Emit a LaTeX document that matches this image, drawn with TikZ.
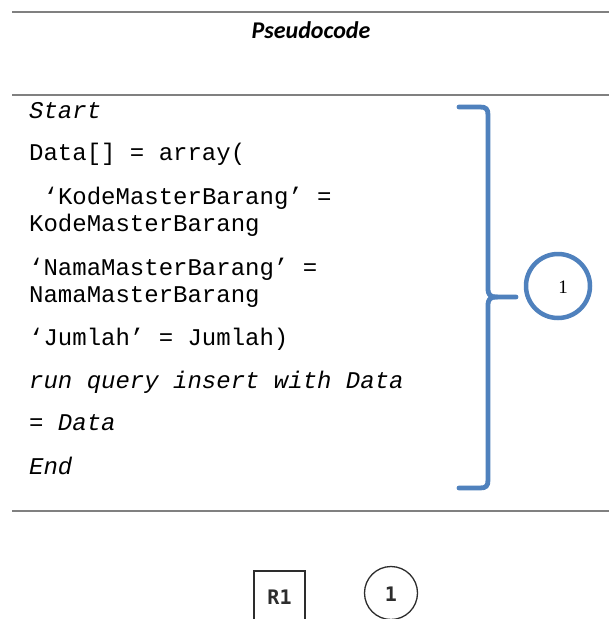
\documentclass[tikz,border=0pt]{standalone}
\usepackage{fontspec}
\setmainfont{Liberation Serif}
\newfontfamily\codefont{Liberation Mono}
\newfontfamily\titlefont{Carlito}
\newfontfamily\labfont{DejaVu Sans Mono}
\definecolor{braceblue}{RGB}{79,129,189}
\definecolor{rulegray}{RGB}{128,128,128}
\definecolor{inkgray}{RGB}{45,45,45}
\tikzset{
  rulestyle/.style={draw=rulegray, line width=2.2pt},
  codeline/.style={anchor=base west, inner sep=0pt, font=\codefont\fontsize{24}{28}\selectfont},
  bracestyle/.style={draw=braceblue, line width=4.8pt, line cap=round, line join=round},
  markcircle/.style={circle, draw=braceblue, line width=4.5pt, minimum size=64pt, inner sep=0pt},
  legendbox/.style={draw=inkgray, line width=1.3pt},
  legendtext/.style={font=\labfont\bfseries\fontsize{20}{23}\selectfont, text=inkgray, inner sep=0pt}
}
\begin{document}
\begin{tikzpicture}[x=1pt,y=-1pt]
\useasboundingbox (0,0) rectangle (609,619);
\clip (0,0) rectangle (609,619);
\fill[white] (0,0) rectangle (609,619);
% rules
\coordinate (r1a) at (12,12); \coordinate (r1b) at (609,12);
\coordinate (r2a) at (12,95); \coordinate (r2b) at (609,95);
\coordinate (r3a) at (12,511); \coordinate (r3b) at (609,511);
\draw[rulestyle] (r1a) -- (r1b);
\draw[rulestyle] (r2a) -- (r2b);
\draw[rulestyle] (r3a) -- (r3b);
% title
\node[font=\titlefont\bfseries\itshape\fontsize{24}{28}\selectfont, inner sep=0pt] (title) at (311,30) {Pseudocode};
% code
\node[codeline] (l1) at (29,118) {\itshape Start};
\node[codeline] (l2) at (29,160) {Data[] = array(};
\node[codeline] (l3) at (29,204) {\ ‘KodeMasterBarang’ =};
\node[codeline] (l4) at (29,231) {KodeMasterBarang};
\node[codeline] (l5) at (29,275) {‘NamaMasterBarang’ =};
\node[codeline] (l6) at (29,302) {NamaMasterBarang};
\node[codeline] (l7) at (29,345) {‘Jumlah’ = Jumlah)};
\node[codeline] (l8) at (29,388) {\itshape run query insert with Data};
\node[codeline] (l9) at (29,430) {\itshape = Data};
\node[codeline] (l10) at (29,474) {\itshape End};
% brace
\coordinate (btop) at (459,107);
\coordinate (bmid) at (516,297);
\coordinate (bbot) at (459,488);
\draw[bracestyle] (btop) -- (480,107) .. controls (486,107) and (488,109) .. (488,115)
  -- (488,288) .. controls (488,295) and (490,297) .. (497,297) -- (bmid);
\draw[bracestyle] (497,297) .. controls (490,297) and (488,299) .. (488,306)
  -- (488,480) .. controls (488,486) and (486,488) .. (480,488) -- (bbot);
% circle 1
\node[markcircle] (c1) at (558,286) {};
\node[font=\fontsize{19}{22}\selectfont, inner sep=0pt] (c1t) at (563,287) {1};
% legend
\draw[legendbox] (254,625) -- (254,571) -- (305,571) -- (305,625);
\node[legendtext] (r1) at (279.5,597) {R1};
\node[circle, draw=inkgray, line width=1.3pt, minimum size=53pt, inner sep=0pt] (c2) at (391,593) {};
\node[legendtext] (c2t) at (391,594) {1};
\end{tikzpicture}
\end{document}
